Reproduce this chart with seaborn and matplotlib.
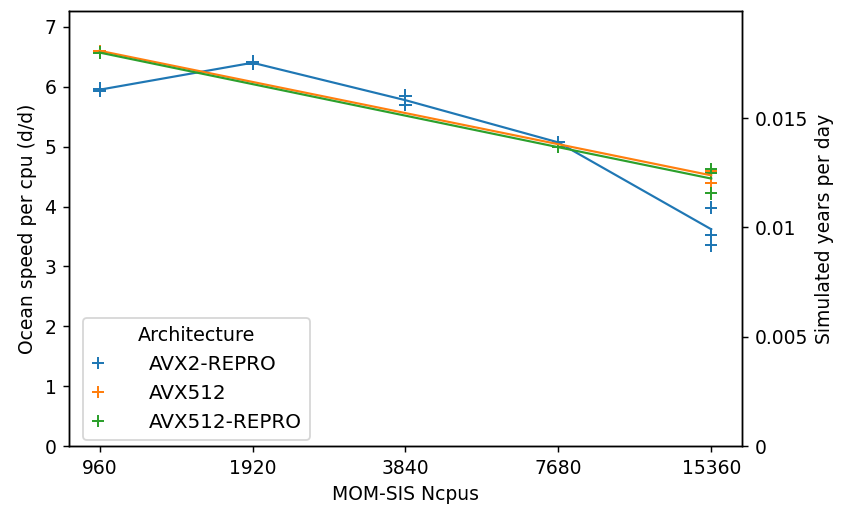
import matplotlib
matplotlib.use("Agg")
import matplotlib.pyplot as plt
import matplotlib.ticker as mticker
import numpy as np
import pandas as pd
import seaborn as sns

# Ocean speed per cpu (d/d) measured at each MOM-SIS core count
avx2_repro_ncpus = [960, 960, 1920, 1920, 3840, 3840, 7680, 15360, 15360, 15360]
avx2_repro_speed = [5.93, 5.97, 6.38, 6.42, 5.85, 5.70, 5.07, 3.98, 3.53, 3.35]

avx512_ncpus = [960, 15360, 15360, 15360]
avx512_speed = [6.60, 4.60, 4.56, 4.40]

avx512_repro_ncpus = [960, 960, 7680, 15360, 15360, 15360]
avx512_repro_speed = [6.57, 6.57, 4.99, 4.62, 4.56, 4.22]

xticks = [960, 1920, 3840, 7680, 15360]
right_ticks = [0, 0.005, 0.01, 0.015]
DAYS_PER_YEAR = 365

frames = []
for arch, n, s in [("AVX2-REPRO", avx2_repro_ncpus, avx2_repro_speed),
                   ("AVX512", avx512_ncpus, avx512_speed),
                   ("AVX512-REPRO", avx512_repro_ncpus, avx512_repro_speed)]:
    frames.append(pd.DataFrame({"Ncpus": n, "Speed": s, "Architecture": arch}))
df = pd.concat(frames, ignore_index=True)

palette = {"AVX2-REPRO": "#1f77b4", "AVX512": "#ff7f0e", "AVX512-REPRO": "#2ca02c"}

plt.rcParams["font.size"] = 10.4

dpi = 130
fig = plt.figure(figsize=(842 / dpi, 511 / dpi), dpi=dpi)
ax = fig.add_axes([0.082, 0.127, 0.799, 0.851])

sns.lineplot(data=df, x="Ncpus", y="Speed", hue="Architecture", palette=palette,
             estimator="mean", errorbar=None, linewidth=1.2, legend=False, ax=ax)
sns.scatterplot(data=df, x="Ncpus", y="Speed", hue="Architecture", palette=palette,
                marker="+", s=48, linewidth=1.1, ax=ax)

ax.set_xscale("log", base=2)
ax.set_xticks(xticks)
ax.xaxis.set_major_formatter(mticker.FixedFormatter([str(t) for t in xticks]))
ax.xaxis.set_minor_locator(mticker.NullLocator())
ymax = max(df["Speed"]) * 1.1
ax.set_ylim(0, ymax)
ax.set_xlabel("MOM-SIS Ncpus")
ax.set_ylabel("Ocean speed per cpu (d/d)")

leg = ax.legend(title="Architecture", loc="lower left",
                bbox_to_anchor=(0.021, 0.014), borderaxespad=0,
                fontsize=11, title_fontsize=10.6,
                handlelength=0.7, handletextpad=2.2)

ax2 = ax.twinx()
ax2.set_ylim(0, ymax / DAYS_PER_YEAR)
ax2.set_yticks(right_ticks)
ax2.yaxis.set_major_formatter(mticker.FuncFormatter(lambda v, p: f"{v:g}"))
ax2.set_ylabel("Simulated years per day")

fig.savefig("out.png", dpi=dpi)
